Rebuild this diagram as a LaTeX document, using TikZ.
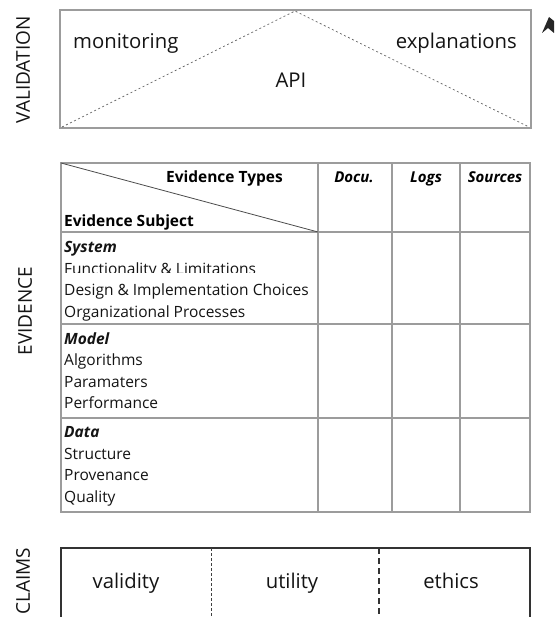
\documentclass[tikz,border=0pt]{standalone}
\usepackage{fontspec}
\setmainfont{Open Sans}
\begin{document}
\begin{tikzpicture}[x=1pt,y=-1pt,
  frame/.style={draw=gridgray, line width=1.2pt},
  gridline/.style={draw=gridgray, line width=1.2pt},
  thin dash/.style={draw=gray!80!black, line width=0.7pt, dash pattern=on 2pt off 2.5pt},
  sidelabel/.style={rotate=90, font=\fontsize{19}{22}\selectfont, text=black!92, inner sep=0pt},
  biglabel/.style={font=\fontsize{20.3}{24}\selectfont, text=black!92, inner sep=0pt},
  cell/.style={anchor=base west, font=\fontsize{15.5}{18}\selectfont, text=black!92, inner sep=0pt},
  cellhead/.style={cell, font=\fontsize{15.5}{18}\selectfont\bfseries\itshape},
  colhead/.style={anchor=base, font=\fontsize{15}{18}\selectfont\bfseries\itshape, text=black, inner sep=0pt},
]
\definecolor{gridgray}{HTML}{9C9C9C}
\useasboundingbox (0,0) rectangle (554,617);
\fill[white] (0,0) rectangle (554,617);

% ---------- Validation layer ----------
\coordinate (vnw) at (60,10);
\coordinate (vse) at (531,128);
\draw[frame] (vnw) rectangle (vse);
\coordinate (apex) at (295,11);
\coordinate (vbl) at (62,127);
\coordinate (vbr) at (529,127);
\draw[thin dash] (vbl) -- (apex) -- (vbr);
\node[biglabel, anchor=base west] (mon) at (73,49) {monitoring};
\node[biglabel, anchor=base east] (expl) at (517,49) {explanations};
\node[biglabel, anchor=base] (api) at (291,88) {API};
\node[sidelabel] (val) at (23,70) {VALIDATION};

% arrow tip at the right edge
\fill[black!85] (542,33) -- (549,17) -- (554,21) -- (554,33) -- (548,28) -- cycle;

% ---------- Evidence table ----------
\coordinate (tnw) at (61,163);
\coordinate (tse) at (530,512);
\draw[gridline] (tnw) rectangle (tse);
% column separators
\foreach \cx in {318,392,460} \draw[gridline] (\cx,163) -- (\cx,512);
% row separators
\foreach \ry in {232,324,418} \draw[gridline] (61,\ry) -- (530,\ry);
% diagonal header split
\coordinate (dend) at (318,232);
\draw[draw=black!70, line width=0.8pt] (tnw) -- (dend);

\node[anchor=base east, font=\fontsize{15.5}{18}\selectfont\bfseries, text=black, inner sep=0pt] (etypes) at (283,183) {Evidence Types};
\node[anchor=base west, font=\fontsize{15.5}{18}\selectfont\bfseries, text=black, inner sep=0pt] (esubj) at (64,226) {Evidence Subject};
\node[colhead] (docu) at (354,183) {Docu.};
\node[colhead] (logs) at (426,183) {Logs};
\node[colhead] (srcs) at (495,183) {Sources};

% System
\node[cellhead] (sys) at (64,252) {System};
\begin{scope}
  \clip (61,255) rectangle (318,272.5);
  \node[cell] (sys1) at (64,274) {Functionality \& Limitations};
\end{scope}
\node[cell] (sys2) at (64,295.5) {Design \& Implementation Choices};
\node[cell] (sys3) at (64,317) {Organizational Processes};
% Model
\node[cellhead] (mod) at (64,344) {Model};
\node[cell] (mod1) at (64,365.5) {Algorithms};
\node[cell] (mod2) at (64,387) {Paramaters};
\node[cell] (mod3) at (64,408.5) {Performance};
% Data
\node[cellhead] (dat) at (64,437.5) {Data};
\node[cell] (dat1) at (64,459) {Structure};
\node[cell] (dat2) at (64,480.5) {Provenance};
\node[cell] (dat3) at (64,502) {Quality};

\node[sidelabel] (evid) at (25,311) {EVIDENCE};

% ---------- Claims layer ----------
\coordinate (cnw) at (61,548);
\draw[draw=black!80, line width=1.2pt] (61,625) -- (cnw) -- (530,548) -- (530,625);
\coordinate (d1t) at (211,548);
\coordinate (d1b) at (211,625);
\coordinate (d2t) at (379,548);
\coordinate (d2b) at (379,625);
\draw[draw=black!75, line width=0.7pt, dash pattern=on 2.5pt off 2.5pt] (d1t) -- (d1b);
\draw[draw=black!80, line width=1.1pt, dash pattern=on 6pt off 4pt] (d2t) -- (d2b);
\node[biglabel, anchor=base] (cval) at (126,588) {validity};
\node[biglabel, anchor=base] (cuti) at (292,588) {utility};
\node[biglabel, anchor=base] (ceth) at (451,588) {ethics};
\node[sidelabel] (clm) at (23,581) {CLAIMS};
\end{tikzpicture}
\end{document}
